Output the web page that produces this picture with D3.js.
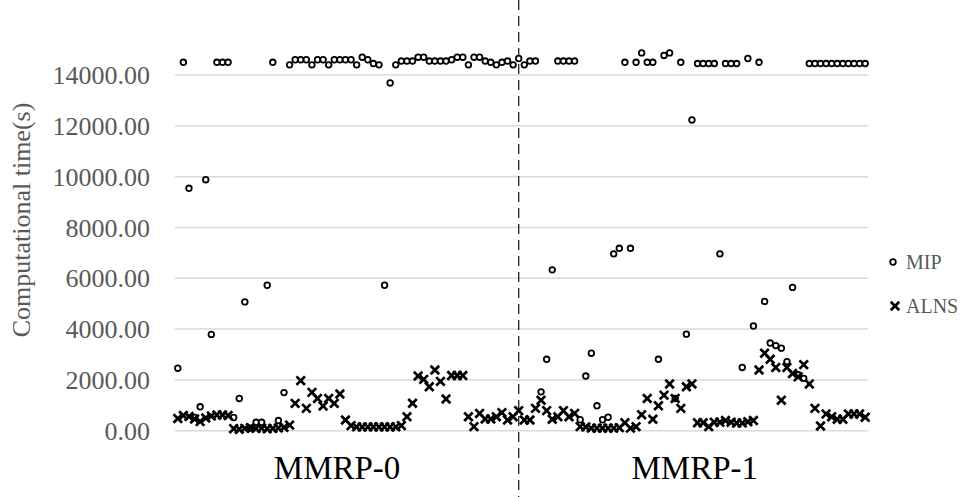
<!DOCTYPE html>
<meta charset="utf-8" />

<style>
  body {
    margin: 0;
    background-color: #fff;
  }
  svg {
    display: block;
    font-family: "Liberation Serif", "Times New Roman", serif;
  }
</style>

<!-- Load d3.js -->
<script src="https://d3js.org/d3.v7.min.js"></script>

<svg id="chart" width="962" height="497"></svg>

<script>
  // Data (instance index -> seconds)
  const mipTimes = [
    2460, 14500, 9540, 520, 940, 9880, 3790, 14500, 14500, 14500,
    520, 1270, 5070, 100, 330, 330, 5725, 14500, 400, 1500,
    14400, 14600, 14600, 14600, 14400, 14600, 14600, 14400, 14600, 14600,
    14600, 14600, 14400, 14700, 14600, 14450, 14400, 5725, 13690, 14400,
    14550, 14550, 14550, 14700, 14700, 14550, 14550, 14550, 14550, 14600,
    14700, 14700, 14400, 14700, 14700, 14550, 14500, 14400, 14500, 14550,
    14400, 14650, 14400, 14550, 14550, 1530, 2810, 6330, 14550, 14550,
    14550, 14550, 430, 2150, 3050, 980, 430, 530, 6960, 7180,
    14500, 7180, 14500, 14870, 14500, 14500, 2810, 14770, 14870, 1270,
    14500, 3800, 12230, 14450, 14450, 14450, 14450, 6960, 14450, 14450,
    14450, 2490, 14650, 4120, 14500, 5090, 3450, 3350, 3250, 2720,
    5640, 2200, 2060, 14450, 14450, 14450, 14450, 14450, 14450, 14450,
    14450, 14450, 14450, 14450
  ];

  const alnsTimes = [
    480, 600, 560, 460, 360, 500, 580, 620, 620, 600,
    80, 60, 90, 120, 90, 100, 80, 90, 110, 130,
    220, 1075, 1970, 880, 1510, 1270, 970, 1270, 1075, 1445,
    420, 200, 150, 150, 150, 150, 150, 150, 150, 150,
    200, 550, 1080, 2150, 2020, 1730, 2390, 1940, 1250, 2170,
    2170, 2170, 550, 160, 680, 460, 460, 550, 710, 420,
    550, 790, 420, 420, 880, 1200, 790, 450, 550, 790,
    550, 680, 160, 150, 100, 100, 100, 100, 100, 120,
    310, 100, 160, 630, 1270, 450, 980, 1400, 1840, 1270,
    880, 1730, 1840, 310, 310, 160, 330, 330, 400, 330,
    300, 300, 350, 400, 2390, 3050, 2810, 2490, 1200, 2490,
    2250, 2120, 2600, 1840, 880, 185, 660, 550, 450, 450,
    660, 660, 660, 530
  ];

  const yTicks = [0, 2000, 4000, 6000, 8000, 10000, 12000, 14000];
  const groupNames = ['MMRP-0', 'MMRP-1'];
  const groupLabelAt = [28.5, 92.5];   // index where each group label sits
  const splitAt = 61;                  // dashed divider between the groups
  const seriesNames = ['MIP', 'ALNS'];

  const svg = d3.select('#chart');

  const x = d3.scaleLinear()
    .domain([-0.5, mipTimes.length - 0.5])
    .range([175, 868]);

  const y = d3.scaleLinear()
    .domain([0, 14000])
    .range([430.7, 75]);

  // gridlines
  svg.append('g')
    .selectAll('line')
    .data(yTicks)
    .join('line')
    .attr('x1', x.range()[0])
    .attr('x2', x.range()[1])
    .attr('y1', d => y(d))
    .attr('y2', d => y(d))
    .attr('stroke', '#d9d9d9')
    .attr('stroke-width', 1.5);

  // y axis labels
  svg.append('g')
    .selectAll('text')
    .data(yTicks)
    .join('text')
    .attr('x', 150)
    .attr('y', d => y(d))
    .attr('dy', '0.35em')
    .attr('text-anchor', 'end')
    .attr('fill', '#595959')
    .style('font-size', '26px')
    .text(d => d3.format('.2f')(d));

  // y axis title
  svg.append('text')
    .attr('transform', 'translate(30,220) rotate(-90)')
    .attr('text-anchor', 'middle')
    .attr('fill', '#595959')
    .style('font-size', '26px')
    .text('Computational time(s)');

  // dashed divider
  svg.append('line')
    .attr('x1', x(splitAt))
    .attr('x2', x(splitAt))
    .attr('y1', 0)
    .attr('y2', 497)
    .attr('stroke', '#222')
    .attr('stroke-width', 1.3)
    .attr('stroke-dasharray', '10,6');

  // group labels
  svg.append('g')
    .selectAll('text')
    .data(groupNames)
    .join('text')
    .attr('x', (d, i) => x(groupLabelAt[i]))
    .attr('y', 479)
    .attr('text-anchor', 'middle')
    .attr('fill', '#000')
    .style('font-size', '33px')
    .text(d => d);

  const crossPath = 'M-3.3,-3.3L3.3,3.3M3.3,-3.3L-3.3,3.3';

  // MIP circles
  svg.append('g')
    .selectAll('circle')
    .data(mipTimes)
    .join('circle')
    .attr('cx', (d, i) => x(i))
    .attr('cy', d => y(d))
    .attr('r', 2.8)
    .attr('fill', '#fff')
    .attr('stroke', '#000')
    .attr('stroke-width', 1.8);

  // ALNS crosses
  svg.append('g')
    .selectAll('path')
    .data(alnsTimes)
    .join('path')
    .attr('transform', (d, i) => `translate(${x(i)},${y(d)})`)
    .attr('d', crossPath)
    .attr('stroke', '#000')
    .attr('stroke-width', 2.7)
    .attr('stroke-linecap', 'square');

  // legend
  const legend = svg.append('g');
  legend.append('circle')
    .attr('cx', 893)
    .attr('cy', 262)
    .attr('r', 2.8)
    .attr('fill', '#fff')
    .attr('stroke', '#000')
    .attr('stroke-width', 1.8);
  legend.append('path')
    .attr('transform', 'translate(895,306)')
    .attr('d', crossPath)
    .attr('stroke', '#000')
    .attr('stroke-width', 2.7)
    .attr('stroke-linecap', 'square');
  legend.selectAll('text')
    .data(seriesNames)
    .join('text')
    .attr('x', 906)
    .attr('y', (d, i) => 262 + i * 44)
    .attr('dy', '0.35em')
    .attr('fill', '#595959')
    .style('font-size', '20px')
    .text(d => d);
</script>
